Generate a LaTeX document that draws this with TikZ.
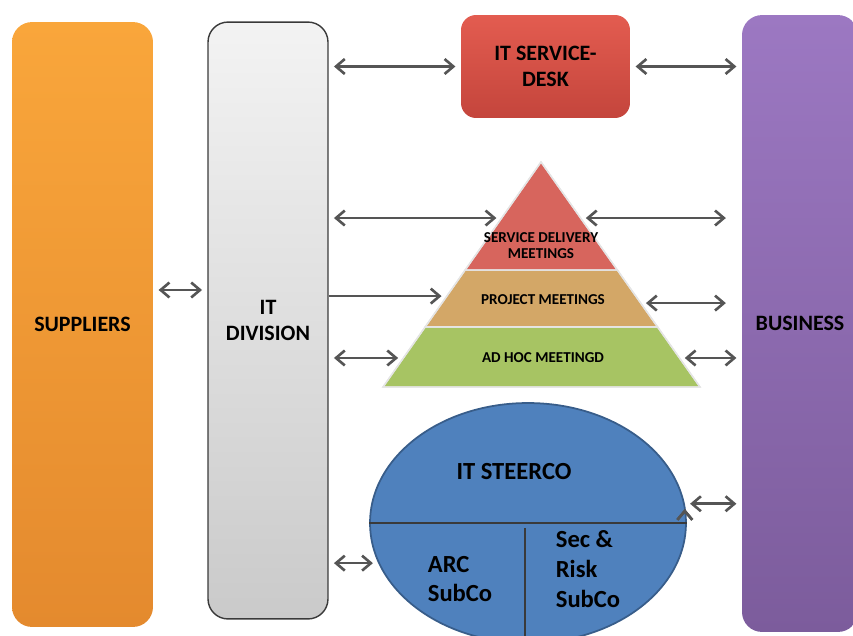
\documentclass[tikz,border=0pt]{standalone}
\usepackage{fontspec}
\setmainfont{Carlito}
\usepackage{tikz}
\usetikzlibrary{
        arrows.meta,
        calc,
        positioning,
        shapes.geometric
    }
\definecolor{arrowgray}{HTML}{555555}
\definecolor{linegray}{HTML}{3A3A3A}
\tikzset{>={Straight Barb[length=5pt,width=8.5pt]}}
\tikzset{big/.style={font=\bfseries\fontsize{12.5}{15}\selectfont}}

\begin{document}
\begin{tikzpicture}[x=0.02cm,y=-0.02cm,
        column/.style={rectangle,rounded corners=0.4cm,align=center,big,inner sep=0pt},
        link/.style={<->,draw=arrowgray,line width=1.5pt,shorten <=3pt,shorten >=3pt},
        band/.style={draw=white!80!gray,line width=0.8pt},
        small/.style={font=\bfseries\fontsize{8.6}{9.2}\selectfont,align=center}
    ]
    \useasboundingbox (0,0) rectangle (853,636);
    % the three columns and the service desk
    \node[column,minimum width=2.82cm,minimum height=12.1cm,top color={rgb,255:red,249;green,166;blue,59},bottom color={rgb,255:red,228;green,138;blue,46}] (suppliers) at (82.5,324.5) {SUPPLIERS};
    \node[column,minimum width=2.4cm,minimum height=11.94cm,top color={rgb,255:red,243;green,243;blue,243},bottom color={rgb,255:red,202;green,202;blue,202},draw=linegray,line width=0.8pt] (itdiv) at (268,320.5) {IT\\DIVISION};
    \node[column,minimum width=2.32cm,minimum height=12.34cm,top color={rgb,255:red,156;green,120;blue,194},bottom color={rgb,255:red,124;green,92;blue,156}] (business) at (800,323.5) {BUSINESS};
    \node[column,rounded corners=0.3cm,minimum width=3.38cm,minimum height=2.06cm,top color={rgb,255:red,227;green,92;blue,80},bottom color={rgb,255:red,196;green,69;blue,60}] (desk) at (545.5,66.5) {IT SERVICE-\\DESK};

    % pyramid
    \coordinate (apex) at (541,162);
    \coordinate (bl) at (383,387);
    \coordinate (br) at (700,387);
    \coordinate (l1) at ($(apex)!0.48!(bl)$);
    \coordinate (r1) at ($(apex)!0.48!(br)$);
    \coordinate (l2) at ($(apex)!0.733!(bl)$);
    \coordinate (r2) at ($(apex)!0.733!(br)$);
    \fill[band,fill={rgb,255:red,167;green,196;blue,99}] (l2) -- (r2) -- (br) -- (bl) -- cycle;
    \fill[band,fill={rgb,255:red,211;green,167;blue,103}] (l1) -- (r1) -- (r2) -- (l2) -- cycle;
    \fill[band,fill={rgb,255:red,215;green,101;blue,93}] (apex) -- (r1) -- (l1) -- cycle;
    \draw[band] (apex) -- (br) -- (bl) -- cycle (l1) -- (r1) (l2) -- (r2);
    \node[small] (sdm) at (541,246) {SERVICE DELIVERY\\MEETINGS};
    \node[small] (pm) at (543,300) {PROJECT MEETINGS};
    \node[small] (ahm) at (543,358) {AD HOC MEETINGD};

    % steering committee
    \node[ellipse,minimum width=6.32cm,minimum height=4.8cm,inner sep=0pt,fill={rgb,255:red,79;green,129;blue,189},draw={rgb,255:red,56;green,93;blue,138},line width=1pt] (steerco) at (528,523) {};
    \draw[linegray,line width=1.3pt] (steerco.west) -- (steerco.east);
    \draw[linegray,line width=1.3pt] (525,528) -- (525,643);
    \node[font=\bfseries\fontsize{14}{16}\selectfont] (st) at (514,472) {IT STEERCO};
    \node[font=\bfseries\fontsize{14}{16}\selectfont,align=left] (arc) at (460,579) {ARC\\SubCo};
    \node[font=\bfseries\fontsize{14}{17}\selectfont,align=left] (sec) at (588,569) {Sec \&\\Risk\\SubCo};

    % connectors
    \coordinate (s1) at ($(apex)!0.249!(bl)$);
    \coordinate (s2) at ($(apex)!0.249!(br)$);
    \coordinate (p1) at ($(apex)!0.596!(bl)$);
    \coordinate (p2) at ($(apex)!0.627!(br)$);
    \coordinate (a1) at ($(apex)!0.871!(bl)$);
    \coordinate (a2) at ($(apex)!0.871!(br)$);
    \coordinate (supY) at (0,290);
    \path[link]
        (itdiv.east |- desk.west) edge (desk.west)
        (desk.east) edge (business.west |- desk.east)
        (suppliers.east |- supY) edge (itdiv.west |- supY)
        (itdiv.east |- s1) edge (s1)
        (s2) edge ([xshift=-6pt]business.west |- s2)
        (a1) edge (itdiv.east |- a1)
        (a2) edge (business.west |- a2)
        (steerco.195) edge (itdiv.east |- steerco.195)
        (steerco.7) edge (business.west |- steerco.7)
    ;
    \draw[->,draw=arrowgray,line width=1.5pt,shorten >=3pt] (itdiv.east |- p1) -- (p1);
    \draw[link] (p2) -- ([xshift=-6pt]business.west |- p2);
\end{tikzpicture}
\end{document}
